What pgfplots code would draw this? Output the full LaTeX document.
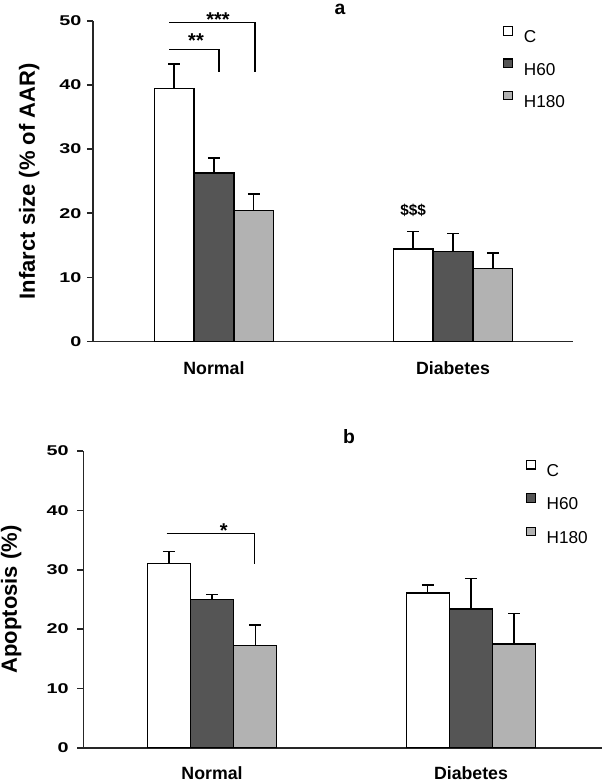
\documentclass[border=0pt]{standalone}
\usepackage{fontspec}
\setmainfont{Liberation Sans}
\usepackage{graphicx}
\usepackage{pgfplots}
\pgfplotsset{compat=1.18}

\definecolor{hdark}{RGB}{85,85,85}
\definecolor{hlight}{RGB}{178,178,178}

% shared look of both panels
\pgfplotsset{
  panel/.style={
    scale only axis,
    axis lines=left,
    axis line style={-, line width=1.2pt, black!85},
    ymin=0, ymax=50,
    ytick={0,10,20,30,40,50},
    xtick={0,1},
    xticklabels={Normal,Diabetes},
    xtick style={draw=none},
    ytick style={line width=1.2pt, black!85},
    tick align=outside,
    major tick length=4.5pt,
    /pgf/number format/assume math mode=true,
    yticklabel={\scalebox{1.4}[1]{\pgfmathprintnumber{\tick}}},
    yticklabel style={font=\bfseries\fontsize{10.6}{12}\selectfont,
      anchor=east, inner sep=0pt},
    xticklabel style={font=\bfseries\fontsize{13.3}{15}\selectfont,
      anchor=base, inner sep=0pt},
    ybar=0pt,
    bar width=0.1667,
    clip=false,
    legend cell align=left,
    legend style={draw=none, fill=none, inner sep=0pt, anchor=north west,
      font=\fontsize{12.9}{14}\selectfont,
      nodes={inner sep=0pt, text height=9.4pt, text depth=0pt},
      /tikz/every odd column/.append style={column sep=8.3pt}},
    every axis y label/.style={rotate=90, anchor=center,
      font=\bfseries\fontsize{16.5}{18}\selectfont},
  },
  sq legend/.style={legend image code/.code={
      \draw[#1, line width=0.8pt] (0pt,1pt) rectangle (6.4pt,7.4pt);}},
  errbar/.style={error bars/.cd, y dir=plus, y explicit,
    error bar style={line width=1pt, black},
    error mark=|,
    error mark options={line width=1pt, black, mark size=4.5pt}},
}

\begin{document}
\begin{tikzpicture}
\path[use as bounding box] (0,0) rectangle (451.5pt,588pt);

% ---- a: infarct size ----
\begin{axis}[panel,
  at={(69.75pt,331.9pt)}, anchor=south west,
  width=360pt, height=240.4pt,
  xmin=-0.506, xmax=1.502,
  ylabel={Infarct size (\% of AAR)},
  every axis y label/.append style={at={(axis description cs:-0.133,0.5)}},
  yticklabel style={xshift=-4.1pt},
  xticklabel style={yshift=-20.5pt},
  legend style={at={(axis description cs:0.854,0.984)}, row sep=11.6pt},
]
\addplot[fill=white, draw=black, line width=1pt, sq legend, errbar]
  coordinates {(0,39.5) +- (0,3.8) (1,14.4) +- (0,2.8)};
\addplot[fill=hdark, draw=black, line width=1pt, sq legend, errbar]
  coordinates {(0,26.3) +- (0,2.3) (1,14.0) +- (0,2.8)};
\addplot[fill=hlight, draw=black, line width=1pt, sq legend, errbar]
  coordinates {(0,20.4) +- (0,2.6) (1,11.4) +- (0,2.4)};
\legend{C,H60,H180}

\draw[line width=0.9pt] (axis cs:-0.188,45.6) -- (axis cs:0.021,45.6) -- (axis cs:0.021,42.0);
\draw[line width=0.9pt] (axis cs:-0.188,49.8) -- (axis cs:0.172,49.8) -- (axis cs:0.172,42.0);
\node[anchor=base, font=\bfseries\fontsize{15}{17}\selectfont, inner sep=0pt] at (axis cs:-0.075,45.9) {**};
\node[anchor=base, font=\bfseries\fontsize{15}{17}\selectfont, inner sep=0pt] at (axis cs:0.017,49.2) {***};
\node[anchor=center, font=\bfseries\fontsize{11.5}{13}\selectfont, inner sep=0pt] at (axis cs:0.833,20.4) {\$\$\$};
\node[anchor=base, font=\bfseries\fontsize{14.5}{16}\selectfont, inner sep=0pt] at (axis cs:0.527,51.0) {a};
\end{axis}

% ---- b: apoptosis ----
\begin{axis}[panel,
  at={(62.5pt,27.2pt)}, anchor=south west,
  width=389pt, height=222.5pt,
  xmin=-0.497, xmax=1.506,
  ylabel={Apoptosis (\%)},
  every axis y label/.append style={at={(axis description cs:-0.139,0.5)}},
  yticklabel style={xshift=-6.35pt},
  xticklabel style={yshift=-19.3pt},
  legend style={at={(axis description cs:0.853,0.971)}, row sep=12.5pt},
]
\addplot[fill=white, draw=black, line width=1pt, sq legend, errbar]
  coordinates {(0,31.0) +- (0,2.1) (1,26.1) +- (0,1.3)};
\addplot[fill=hdark, draw=black, line width=1pt, sq legend, errbar]
  coordinates {(0,25.0) +- (0,0.8) (1,23.4) +- (0,5.1)};
\addplot[fill=hlight, draw=black, line width=1pt, sq legend, errbar]
  coordinates {(0,17.2) +- (0,3.5) (1,17.5) +- (0,5.1)};
\legend{C,H60,H180}

\draw[line width=0.9pt] (axis cs:-0.175,36.1) -- (axis cs:0.163,36.1) -- (axis cs:0.163,31.0);
\node[anchor=base, font=\bfseries\fontsize{15}{17}\selectfont, inner sep=0pt] at (axis cs:0.045,35.4) {*};
\node[anchor=base, font=\bfseries\fontsize{14.5}{16}\selectfont, inner sep=0pt] at (axis cs:0.529,51.3) {b};
\end{axis}
\end{tikzpicture}
\end{document}
